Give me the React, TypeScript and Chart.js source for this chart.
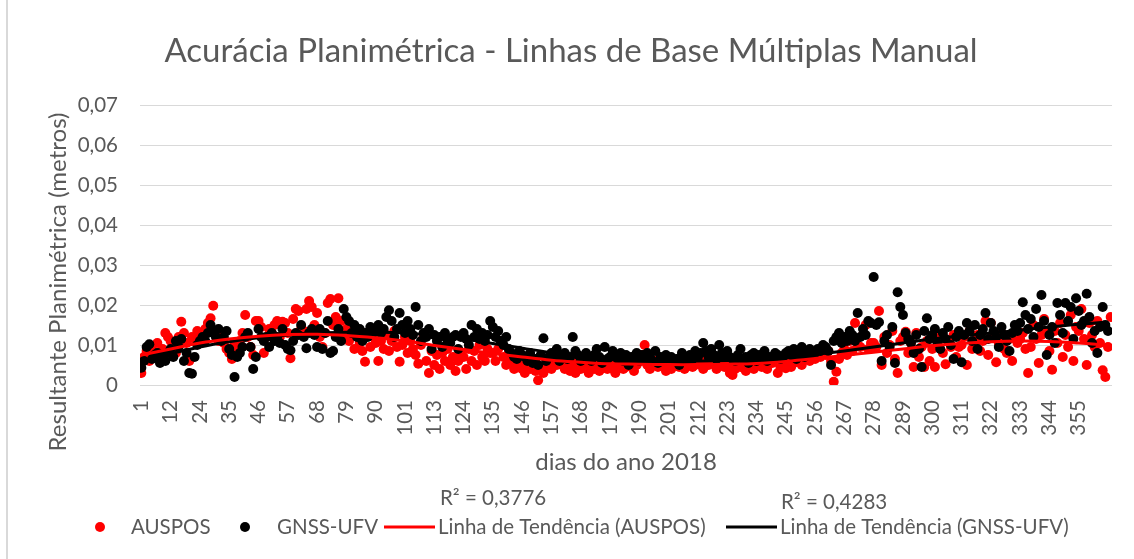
import React, { useEffect, useRef } from 'react';
import { Chart, registerables } from 'chart.js';

Chart.register(...registerables);

const chartTitle = 'Acurácia Planimétrica - Linhas de Base Múltiplas Manual';
const yTitle = 'Resultante Planimétrica (metros)';
const xTitle = 'dias do ano 2018';
const seriesNames = ['AUSPOS', 'GNSS-UFV', 'Linha de Tendência (AUSPOS)', 'Linha de Tendência (GNSS-UFV)'];
const r2Labels = ['R² = 0,3776', 'R² = 0,4283'];

// category labels shown on the x axis (every 11th category)
const tickLabels = ['1', '12', '24', '35', '46', '57', '68', '79', '90', '101', '113', '124', '135', '146', '157', '168', '179', '190', '201', '212', '223', '234', '245', '256', '267', '278', '289', '300', '311', '322', '333', '344', '355'];
const tickEvery = 11;
const categoryCount = 365;

// AUSPOS (metros), one value per category
const auspos = [
  0.003, 0.007, 0.0085, 0.006, 0.009, 0.008, 0.0105, 0.007, 0.009, 0.013, 0.012,
  0.011, 0.009, 0.008, 0.012, 0.0158, 0.013, 0.0105, 0.006, 0.012, 0.0115, 0.0135,
  0.013, 0.012, 0.014, 0.0155, 0.0167, 0.0198, 0.013, 0.011, 0.012, 0.0105, 0.009,
  0.008, 0.0065, 0.0105, 0.009, 0.011, 0.013, 0.0175, 0.012, 0.0095, 0.0075, 0.016,
  0.016, 0.0145, 0.008, 0.012, 0.014, 0.013, 0.015, 0.016, 0.012, 0.0158, 0.0155,
  0.013, 0.0067, 0.0165, 0.019, 0.0185, 0.014, 0.0135, 0.019, 0.021, 0.0195, 0.015,
  0.018, 0.012, 0.0095, 0.013, 0.0205, 0.0215, 0.015, 0.017, 0.0217, 0.016, 0.0125,
  0.014, 0.011, 0.013, 0.009, 0.012, 0.0105, 0.0085, 0.0058, 0.013, 0.0095, 0.012,
  0.0105, 0.006, 0.011, 0.009, 0.0125, 0.0085, 0.011, 0.0135, 0.0095, 0.0058, 0.01,
  0.012, 0.008, 0.011, 0.009, 0.0075, 0.0053, 0.01, 0.012, 0.006, 0.003, 0.0085,
  0.005, 0.0075, 0.004, 0.008, 0.006, 0.009, 0.005, 0.007, 0.0035, 0.006, 0.008,
  0.007, 0.004, 0.009, 0.006, 0.0085, 0.005, 0.01, 0.007, 0.006, 0.009, 0.008,
  0.008, 0.006, 0.009, 0.011, 0.007, 0.005, 0.008, 0.006, 0.004, 0.0065, 0.005,
  0.004, 0.003, 0.005, 0.004, 0.006, 0.0035, 0.0012, 0.004, 0.003, 0.005, 0.006,
  0.004, 0.006, 0.005, 0.007, 0.005, 0.004, 0.006, 0.0035, 0.005, 0.003, 0.006,
  0.004, 0.007, 0.005, 0.003, 0.006, 0.004, 0.005, 0.0035, 0.006, 0.005, 0.004,
  0.0055, 0.004, 0.003, 0.005, 0.006, 0.004, 0.0045, 0.006, 0.005, 0.0035, 0.005,
  0.006, 0.0075, 0.01, 0.005, 0.004, 0.0055, 0.006, 0.0045, 0.005, 0.006, 0.0035,
  0.005, 0.004, 0.0055, 0.006, 0.0045, 0.005, 0.004, 0.006, 0.0055, 0.0045, 0.005,
  0.006, 0.005, 0.004, 0.0065, 0.005, 0.007, 0.0055, 0.004, 0.006, 0.005, 0.0045,
  0.005, 0.003, 0.0025, 0.004, 0.006, 0.0045, 0.005, 0.0035, 0.006, 0.0055, 0.004,
  0.005, 0.006, 0.0045, 0.005, 0.004, 0.006, 0.0055, 0.007, 0.003, 0.0045, 0.005,
  0.0042, 0.006, 0.0045, 0.0055, 0.007, 0.006, 0.005, 0.0065, 0.008, 0.006, 0.007,
  0.0065, 0.008, 0.007, 0.009, 0.0075, 0.0085, 0.006, 0.0008, 0.0033, 0.0065, 0.008,
  0.009, 0.0075, 0.011, 0.0085, 0.0155, 0.01, 0.0095, 0.0125, 0.015, 0.009, 0.0105,
  0.0105, 0.0095, 0.0185, 0.005, 0.012, 0.008, 0.01, 0.0135, 0.0065, 0.003, 0.011,
  0.012, 0.0133, 0.008, 0.0105, 0.0045, 0.013, 0.007, 0.0095, 0.0045, 0.011, 0.006,
  0.009, 0.0045, 0.0105, 0.012, 0.008, 0.0052, 0.011, 0.0095, 0.0125, 0.007, 0.0095,
  0.01, 0.012, 0.005, 0.0135, 0.009, 0.0105, 0.0125, 0.0085, 0.011, 0.016, 0.0075,
  0.0155, 0.0125, 0.0057, 0.0105, 0.013, 0.009, 0.008, 0.0115, 0.006, 0.012, 0.0105,
  0.0115, 0.013, 0.009, 0.003, 0.0095, 0.015, 0.0115, 0.0055, 0.0125, 0.0165, 0.0135,
  0.0085, 0.0038, 0.0135, 0.0105, 0.0155, 0.007, 0.0125, 0.0095, 0.0175, 0.006, 0.0145,
  0.0135, 0.019, 0.0115, 0.005, 0.0155, 0.0125, 0.0095, 0.016, 0.0105, 0.0037, 0.002,
  0.0095, 0.017,
];

// GNSS-UFV (metros), one value per category
const gnssUfv = [
  0.0043, 0.006, 0.0095, 0.0102, 0.0065, 0.0075, 0.008, 0.0055, 0.007, 0.006, 0.008,
  0.009, 0.007, 0.011, 0.0095, 0.0115, 0.006, 0.008, 0.003, 0.0028, 0.007, 0.01,
  0.011, 0.012, 0.011, 0.013, 0.015, 0.0135, 0.012, 0.014, 0.011, 0.012, 0.0135,
  0.009, 0.0075, 0.002, 0.007, 0.008, 0.0095, 0.012, 0.013, 0.0095, 0.004, 0.007,
  0.014, 0.012, 0.011, 0.012, 0.0095, 0.013, 0.011, 0.012, 0.0105, 0.014, 0.01,
  0.009, 0.0087, 0.011, 0.013, 0.0125, 0.015, 0.012, 0.0092, 0.013, 0.014, 0.0125,
  0.0095, 0.014, 0.009, 0.013, 0.016, 0.008, 0.0085, 0.012, 0.014, 0.011, 0.019,
  0.017, 0.016, 0.013, 0.015, 0.012, 0.014, 0.011, 0.013, 0.012, 0.0145, 0.013,
  0.014, 0.015, 0.013, 0.014, 0.017, 0.0187, 0.016, 0.012, 0.014, 0.018, 0.015,
  0.013, 0.016, 0.014, 0.0125, 0.0195, 0.015, 0.011, 0.013, 0.012, 0.014, 0.009,
  0.0125, 0.011, 0.012, 0.0095, 0.013, 0.011, 0.0105, 0.012, 0.0125, 0.009, 0.012,
  0.013, 0.0115, 0.01, 0.015, 0.012, 0.014, 0.0115, 0.013, 0.011, 0.0125, 0.016,
  0.0145, 0.012, 0.0135, 0.011, 0.01, 0.012, 0.009, 0.008, 0.007, 0.0065, 0.0085,
  0.0075, 0.007, 0.006, 0.008, 0.0055, 0.0065, 0.005, 0.0075, 0.0117, 0.006, 0.007,
  0.008, 0.007, 0.009, 0.006, 0.0075, 0.008, 0.0065, 0.007, 0.012, 0.0085, 0.0075,
  0.006, 0.007, 0.008, 0.0065, 0.006, 0.0075, 0.009, 0.007, 0.0055, 0.0095, 0.0065,
  0.007, 0.0085, 0.007, 0.0065, 0.008, 0.006, 0.0075, 0.005, 0.007, 0.0065, 0.008,
  0.006, 0.0075, 0.0065, 0.008, 0.007, 0.006, 0.0085, 0.0055, 0.007, 0.0065, 0.0075,
  0.006, 0.007, 0.006, 0.0065, 0.005, 0.008, 0.007, 0.006, 0.0075, 0.0065, 0.0085,
  0.007, 0.008, 0.0105, 0.0085, 0.007, 0.009, 0.0075, 0.0065, 0.01, 0.008, 0.007,
  0.0085, 0.007, 0.0065, 0.006, 0.0075, 0.009, 0.0065, 0.007, 0.0055, 0.0075, 0.008,
  0.006, 0.0075, 0.007, 0.0085, 0.006, 0.007, 0.0065, 0.008, 0.0075, 0.0065, 0.007,
  0.008, 0.0085, 0.0075, 0.009, 0.0065, 0.008, 0.0095, 0.007, 0.0085, 0.009, 0.0075,
  0.008, 0.009, 0.0085, 0.01, 0.0095, 0.0085, 0.005, 0.011, 0.012, 0.013, 0.0105,
  0.012, 0.011, 0.0135, 0.0125, 0.011, 0.018, 0.012, 0.014, 0.0125, 0.016, 0.0155,
  0.027, 0.015, 0.0157, 0.006, 0.011, 0.0125, 0.0095, 0.0145, 0.0055, 0.0232, 0.0195,
  0.0175, 0.013, 0.0115, 0.0105, 0.008, 0.0125, 0.009, 0.0045, 0.0135, 0.0167, 0.0115,
  0.0125, 0.014, 0.0105, 0.009, 0.013, 0.0115, 0.0145, 0.01, 0.0065, 0.012, 0.0135,
  0.0057, 0.0125, 0.0155, 0.0135, 0.011, 0.015, 0.009, 0.0125, 0.014, 0.018, 0.0115,
  0.0155, 0.0135, 0.012, 0.0095, 0.0145, 0.0125, 0.011, 0.0085, 0.013, 0.015, 0.0135,
  0.0155, 0.0207, 0.0175, 0.014, 0.0165, 0.012, 0.019, 0.0145, 0.0225, 0.016, 0.0075,
  0.0125, 0.0145, 0.0105, 0.0205, 0.0175, 0.013, 0.0205, 0.016, 0.0195, 0.0115, 0.0217,
  0.0185, 0.015, 0.016, 0.0228, 0.017, 0.0105, 0.0135, 0.008, 0.0145, 0.0195, 0.015,
  0.0135, null,
];

// polynomial trend lines at category positions
const trendCategory = [0, 11, 22, 33, 44, 55, 66, 77, 88, 99, 110, 121, 132, 143, 154, 165, 176, 187, 198, 209, 220, 231, 242, 253, 264, 275, 286, 297, 308, 319, 330, 341, 352, 362];
const trendAuspos = [0.0075, 0.009, 0.0105, 0.0115, 0.0122, 0.0126, 0.0127, 0.0124, 0.0118, 0.011, 0.0099, 0.0089, 0.0079, 0.007, 0.0062, 0.0057, 0.0053, 0.0052, 0.0051, 0.0051, 0.0052, 0.0054, 0.0059, 0.0066, 0.0074, 0.0082, 0.009, 0.0098, 0.0104, 0.0108, 0.011, 0.0109, 0.0105, 0.01];
const trendGnss = [0.0058, 0.0078, 0.0095, 0.0108, 0.0118, 0.0125, 0.013, 0.0132, 0.0132, 0.013, 0.0124, 0.0115, 0.0104, 0.0092, 0.0081, 0.0072, 0.0066, 0.0062, 0.006, 0.006, 0.0061, 0.0063, 0.0068, 0.0076, 0.0085, 0.0095, 0.0105, 0.0115, 0.0123, 0.013, 0.0137, 0.0145, 0.0152, 0.0157];

const W = 1134;
const H = 559;
const FONT = 'Lato, "Open Sans", sans-serif';
const TEXT = '#595959';
const RED = '#ff0000';
const BLACK = '#000000';

export default function App() {
  const ref = useRef<HTMLCanvasElement>(null);

  useEffect(() => {
    if (!ref.current) return;

    const toPoints = (arr: (number | null)[]) =>
      arr.map((y, i) => ({ x: i, y })).filter((p) => p.y !== null);
    const trendPoints = (vals: number[]) => trendCategory.map((x, k) => ({ x, y: vals[k] }));

    const overlay = {
      id: 'overlay',
      afterDraw(chart: any) {
        const { ctx, chartArea } = chart;
        ctx.save();
        // chart frame (left edge)
        ctx.strokeStyle = '#d9d9d9';
        ctx.lineWidth = 2;
        ctx.beginPath();
        ctx.moveTo(7, 0);
        ctx.lineTo(7, H);
        ctx.stroke();

        ctx.fillStyle = TEXT;
        ctx.textBaseline = 'middle';

        // title
        ctx.textAlign = 'center';
        ctx.font = `33px ${FONT}`;
        ctx.fillText(chartTitle, 571, 51);

        // y axis title
        ctx.save();
        ctx.translate(58, 282);
        ctx.rotate(-Math.PI / 2);
        ctx.font = `24px ${FONT}`;
        ctx.fillText(yTitle, 0, 0);
        ctx.restore();

        // x axis title
        ctx.font = `24px ${FONT}`;
        ctx.fillText(xTitle, (chartArea.left + chartArea.right) / 2, 462);

        // R² labels
        ctx.textAlign = 'left';
        ctx.font = `20.5px ${FONT}`;
        ctx.fillText(r2Labels[0], 440, 498);
        ctx.fillText(r2Labels[1], 781, 502);

        // legend
        const ly = 527;
        ctx.fillStyle = RED;
        ctx.beginPath();
        ctx.arc(100, ly, 5, 0, Math.PI * 2);
        ctx.fill();
        ctx.fillStyle = BLACK;
        ctx.beginPath();
        ctx.arc(245, ly, 5, 0, Math.PI * 2);
        ctx.fill();
        ctx.lineWidth = 3;
        ctx.strokeStyle = RED;
        ctx.beginPath();
        ctx.moveTo(384, ly);
        ctx.lineTo(435, ly);
        ctx.stroke();
        ctx.strokeStyle = BLACK;
        ctx.beginPath();
        ctx.moveTo(726, ly);
        ctx.lineTo(777, ly);
        ctx.stroke();
        ctx.fillStyle = TEXT;
        ctx.font = `20.5px ${FONT}`;
        ctx.fillText(seriesNames[0], 131, ly);
        ctx.fillText(seriesNames[1], 277, ly);
        ctx.fillText(seriesNames[2], 438, ly);
        ctx.fillText(seriesNames[3], 780, ly);
        ctx.restore();
      },
    };

    const chart = new Chart(ref.current, {
      type: 'scatter',
      data: {
        datasets: [
          {
            label: seriesNames[0],
            data: toPoints(auspos),
            backgroundColor: RED,
            borderColor: RED,
            borderWidth: 0,
            pointRadius: 5,
            order: 4,
          },
          {
            label: seriesNames[1],
            data: toPoints(gnssUfv),
            backgroundColor: BLACK,
            borderColor: BLACK,
            borderWidth: 0,
            pointRadius: 5,
            order: 3,
          },
          {
            label: seriesNames[2],
            data: trendPoints(trendAuspos),
            showLine: true,
            borderColor: RED,
            backgroundColor: RED,
            borderWidth: 3,
            pointRadius: 0,
            tension: 0.4,
            order: 1,
          },
          {
            label: seriesNames[3],
            data: trendPoints(trendGnss),
            showLine: true,
            borderColor: BLACK,
            backgroundColor: BLACK,
            borderWidth: 3,
            pointRadius: 0,
            tension: 0.4,
            order: 2,
          },
        ],
      } as any,
      options: {
        responsive: false,
        animation: false,
        events: [],
        layout: { padding: { left: 0, top: 105, right: 22, bottom: 0 } },
        plugins: {
          legend: { display: false },
          title: { display: false },
          tooltip: { enabled: false },
        },
        scales: {
          x: {
            type: 'linear',
            min: -0.5,
            max: categoryCount - 0.5,
            afterBuildTicks: (scale: any) => {
              scale.ticks = tickLabels.map((_, k) => ({ value: k * tickEvery }));
            },
            afterFit: (scale: any) => {
              scale.height = 174;
            },
            grid: { display: false, drawTicks: false },
            border: { display: false },
            ticks: {
              autoSkip: false,
              minRotation: 90,
              maxRotation: 90,
              padding: 15,
              color: TEXT,
              font: { family: FONT, size: 20.5 },
              callback: (_v: any, i: number) => tickLabels[i],
            },
          },
          y: {
            min: 0,
            max: 0.07,
            afterFit: (scale: any) => {
              scale.width = 140;
            },
            grid: { color: '#d9d9d9', lineWidth: 1, drawTicks: false },
            border: { display: false },
            ticks: {
              stepSize: 0.01,
              padding: 22,
              color: TEXT,
              font: { family: FONT, size: 20.5 },
              callback: (v: any) => (Number(v) === 0 ? '0' : Number(v).toFixed(2).replace('.', ',')),
            },
          },
        },
      } as any,
      plugins: [overlay],
    });

    return () => chart.destroy();
  }, []);

  return (
    <div style={{ position: 'fixed', left: 0, top: 0, width: W, height: H, background: '#ffffff' }}>
      <canvas ref={ref} width={W} height={H} style={{ display: 'block', width: W, height: H }} />
    </div>
  );
}
